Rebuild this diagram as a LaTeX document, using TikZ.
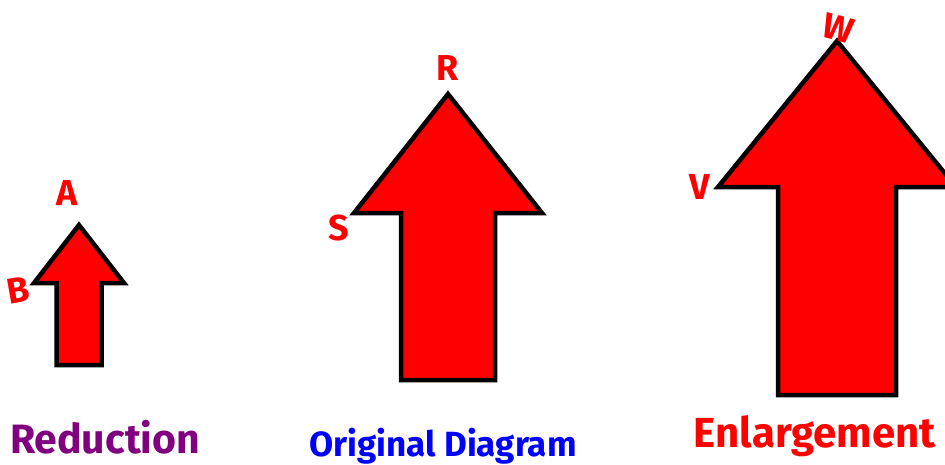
\documentclass[tikz,border=0pt]{standalone}
\usepackage{fontspec}
\setmainfont{Fira Sans}
\usetikzlibrary{positioning}
\definecolor{ArrowRed}{HTML}{FF0000}
\definecolor{Purple}{HTML}{800080}
\definecolor{Blue}{HTML}{0000FF}
\tikzset{
  arrowbody/.style={fill=ArrowRed,draw=black,line width=4.5pt,line join=miter},
  vertex/.style={ArrowRed,inner sep=0pt,font=\bfseries\fontsize{36}{36}\selectfont},
  caption/.style={inner sep=0pt,font=\bfseries\fontsize{41}{41}\selectfont}
}
% centre x, tip y, head half width, head base y, shaft half width, bottom y
\newcommand{\drawuparrow}[6]{%
  \draw[arrowbody] (#1,#2) -- (#1+#3,#4) -- (#1+#5,#4) -- (#1+#5,#6)
    -- (#1-#5,#6) -- (#1-#5,#4) -- (#1-#3,#4) -- cycle;}

\begin{document}
\begin{tikzpicture}[x=1pt,y=-1pt]
  \useasboundingbox (0,0) rectangle (945,464);
  \clip (0,0) rectangle (945,464);
  \drawuparrow{79}{225}{45}{283}{22.5}{365}
  \drawuparrow{448}{94}{94}{213}{47}{380}
  \drawuparrow{837}{41}{119}{187}{59}{395}
  \node[vertex] (a) at (67,193) {A};
  \node[vertex,rotate=10] (b) at (18,290) {B};
  \node[vertex] (r) at (448,68) {R};
  \node[vertex] (s) at (339,228) {S};
  \node[vertex] (v) at (700,187) {V};
  \node[vertex,rotate=-15] (w) at (838,28) {W};
  \node[caption,Purple] (reduction) at (105,437) {Reduction};
  \node[caption,Blue,font=\bfseries\fontsize{35}{35}\selectfont] (original) at (443,446) {Original Diagram};
  \node[caption,ArrowRed,font=\bfseries\fontsize{42}{42}\selectfont] (enlargement) at (815,436) {Enlargement};
\end{tikzpicture}
\end{document}
